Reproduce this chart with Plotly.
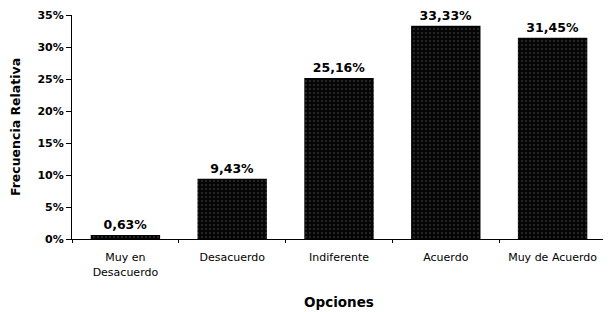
import plotly.graph_objects as go

categories = ["Muy en<br>Desacuerdo", "Desacuerdo", "Indiferente", "Acuerdo", "Muy de Acuerdo"]
values = [0.63, 9.43, 25.16, 33.33, 31.45]
y_ticks = [0, 5, 10, 15, 20, 25, 30, 35]

labels = [f"{v:.2f}".replace(".", ",") + "%" for v in values]

FONT = "DejaVu Sans"

fig = go.Figure(go.Bar(
    x=categories, y=values,
    text=labels, textposition="outside", cliponaxis=False,
    textfont=dict(family=FONT, size=12.5, color="black", weight="bold"),
    marker=dict(color="#050505", line=dict(width=0),
                pattern=dict(shape=".", fgcolor="#9a9a9a", bgcolor="#050505", size=4, solidity=0.12)),
))

# page body has an 8px margin, so the figure is sized to fit the window
fig.update_layout(
    width=603, height=304,
    margin=dict(l=64, r=5, t=7, b=73, autoexpand=False),
    paper_bgcolor="white", plot_bgcolor="white",
    bargap=0.35, showlegend=False,
    font=dict(family=FONT, size=11, color="black"),
)
fig.update_yaxes(
    range=[0, 35], tickvals=y_ticks, ticktext=[f"{t}%" for t in y_ticks],
    showline=True, linecolor="black", linewidth=1, automargin=False,
    ticks="outside", ticklen=5, tickcolor="black", showgrid=False, zeroline=False,
    tickfont=dict(size=11, weight="bold"),
    title=dict(text="Frecuencia Relativa", font=dict(size=12.5, weight="bold"), standoff=14),
)
fig.update_xaxes(
    showline=True, linecolor="black", linewidth=1, automargin=False,
    ticks="outside", ticklen=3, tickcolor="black", tickson="boundaries",
    ticklabelstandoff=8,
    showgrid=False, tickfont=dict(size=11),
    title=dict(text="Opciones", font=dict(size=13.5, weight="bold"), standoff=20),
)

fig.write_html("out.html")
